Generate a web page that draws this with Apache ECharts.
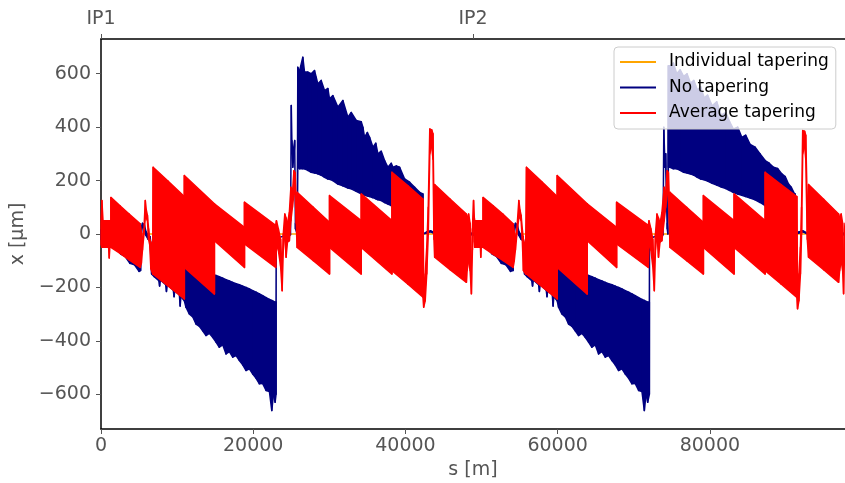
<!DOCTYPE html>
<html>
<head>
<meta charset="utf-8">
<script src="https://cdn.jsdelivr.net/npm/echarts@6/dist/echarts.min.js"></script>
<style>html,body{margin:0;padding:0;background:#fff}#c{width:845px;height:483px}</style>
</head>
<body>
<div id="c"></div>
<script>
// ---- data (s in m, x in micrometres) ----
const seriesNames = ['Individual tapering', 'No tapering', 'Average tapering'];
const xTickValues = [0, 20000, 40000, 60000, 80000];
const yTickValues = [-600, -400, -200, 0, 200, 400, 600];
const ipPositions = [0, 48878];
const ipLabels = ['IP1', 'IP2'];

// Individual tapering (orange)
const sInd = [0, 97756];
const xInd = [0, 0];

// No tapering (navy): envelope of the oscillating orbit, lower / upper edge
const sNo = [0,1300,2000,2600,3200,3800,4400,5000,5200,5300,5450,5700,5900,6200,6450,6650,
 7000,7600,7700,7800,8500,8600,8700,9500,9600,9700,10300,10400,10500,10950,
 11167,11600,12050,12480,12900,13360,13800,14230,14675,15114,15550,15990,16430,16870,17307,17750,18185,18620,19060,19500,19940,20380,20815,21250,21690,22130,22440,22660,22880,23000,
 23020,23500,24000,24900,25000,25080,25200,25450,25550,25780,
 25860,26080,26517,26740,27175,27614,28050,28272,28491,28930,29370,29807,30026,30465,31122,31780,32440,32877,33535,34193,34412,34630,35000,35290,35730,36100,36385,36824,37263,37700,38140,38360,38800,39237,39895,40550,41210,41868,42300,
 42330,42800,43300,43800,44300,48000,48500,48878,49500,50200,
 50800,51400,52000,52600,53200,53800,54150,54300,54450,54700,54900,55200,55450,55650,
 56000,56600,56700,56800,57500,57600,57700,58500,58600,58700,59300,59400,59500,59940,
 60117,60550,61000,61430,61850,62310,62750,63180,63625,64064,64500,64940,65380,65820,66257,66700,67135,67570,68010,68450,68890,69330,69765,70200,70640,71080,71390,71610,71830,72050,
 72070,72500,73000,73850,73950,74050,74200,74400,74480,
 74544,74764,75200,75650,76100,76550,77000,77450,77900,78350,78800,79250,79700,80300,80900,81500,82100,82600,83100,83650,84193,84700,85300,85948,86600,87264,87800,88360,88900,89457,89900,90334,90700,91123,91211,
 91240,91700,92200,92700,93200,97000,97400,97756];
const loNo = [-20,-45,-55,-75,-85,-110,-115,-140,-137,0,30,20,-5,-20,-25,-150,
 -160,-175,-195,-172,-190,-215,-190,-210,-235,-212,-228,-270,-235,-250,
 -274,-299,-310,-337,-345,-362,-380,-372,-387,-405,-424,-415,-449,-440,-461,-455,-474,-490,-511,-505,-524,-540,-561,-560,-586,-590,-661,-600,-630,-600,
 -12,-12,-8,-3,470,300,250,330,20,0,
 250,244,244,244,238,231,228,227,225,220,212,206,205,200,187,180,172,169,160,150,148,146,142,140,136,132,128,125,118,112,106,104,100,95,85,80,72,66,62,
 0,4,8,2,0,-3,-4,-3,-12,-45,
 -55,-75,-85,-110,-115,-140,-137,0,30,20,-5,-20,-25,-150,
 -160,-175,-195,-172,-190,-215,-190,-210,-235,-212,-228,-270,-235,-250,
 -274,-299,-310,-337,-345,-362,-380,-372,-387,-405,-424,-415,-449,-440,-461,-455,-474,-490,-511,-505,-524,-540,-561,-560,-586,-590,-661,-600,-630,-600,
 -12,-12,-8,-3,390,250,250,20,0,
 250,250,244,244,238,231,228,225,220,212,206,203,198,190,183,176,170,163,155,150,145,140,135,128,118,106,100,95,90,85,80,74,70,64,62,
 0,4,8,2,0,-3,-4,-3];
const hiNo = [15,10,0,-10,-20,-40,-50,-70,-70,25,40,35,10,-5,-10,-60,
 -60,-70,-75,-75,-85,-85,-90,-100,-100,-105,-115,-115,-120,-125,
 -127,-130,-133,-136,-139,-142,-146,-149,-152,-155,-160,-165,-171,-176,-181,-186,-190,-195,-200,-206,-212,-218,-224,-231,-238,-245,-249,-252,-255,-255,
 -12,-12,-8,-3,481,350,300,350,40,20,
 624,610,662,606,606,600,612,587,562,575,537,545,506,518,475,500,437,455,425,420,400,362,380,362,325,340,300,310,275,250,265,250,255,250,206,194,175,156,150,
 0,8,12,5,0,3,4,3,-2,10,
 0,-10,-20,-40,-50,-70,-70,25,40,35,10,-5,-10,-60,
 -60,-70,-75,-75,-85,-85,-90,-100,-100,-105,-115,-115,-120,-125,
 -127,-130,-133,-136,-139,-142,-146,-149,-152,-155,-160,-165,-171,-176,-181,-186,-190,-195,-200,-206,-212,-218,-224,-231,-238,-245,-249,-252,-255,-255,
 -12,-12,-8,-3,400,300,300,40,20,
 630,630,640,600,615,590,600,565,575,540,550,510,520,480,495,445,455,420,393,400,362,370,335,325,300,275,265,250,245,225,215,187,175,150,150,
 0,8,12,5,0,3,4,3];

// Average tapering (red): envelope of the oscillating orbit, lower / upper edge
const sAvg = [0,120,260,1000,1080,1160,1300,1300,2500,3700,5150,5300,5450,5650,5820,5950,6100,6250,6400,6550,6800,
 6850,8800,10950,10950,14900,14900,18850,18850,22950,
 23050,23300,23600,23800,23950,24150,24320,24500,24750,24950,25150,25350,25500,25650,
 25770,27900,30026,30026,34193,34193,38228,38228,40300,42307,
 42400,42600,42800,43000,43200,43450,43620,43750,
 43842,45900,48009,48100,48300,48500,48667,48800,48950,49050,49100,49850,49900,49960,50200,
 50200,51500,52800,54150,54300,54450,54650,54900,55050,55200,55350,55500,55800,
 55904,57900,59940,59940,63887,63887,67746,67746,71913,
 72000,72250,72500,72700,72850,73050,73250,73450,73700,74000,74200,74400,74550,74680,
 74764,76950,79150,79150,83185,83185,87264,87264,89350,91431,
 91520,91700,91900,92050,92200,92450,92600,92800,
 92966,94950,96913,97050,97250,97450,97570,97700,97756];
const loAvg = [-40,-50,-50,-50,-90,-50,-50,-50,-73,-97,-125,-110,-60,0,60,60,50,-20,-40,-130,-150,
 -150,-194,-243,-125,-225,-25,-125,-37,-125,
 -40,-60,-120,-212,-60,0,-87,-30,-25,50,100,150,150,40,
 -50,-100,-150,-50,-150,-50,-150,-137,-187,-237,
 -274,-250,-150,0,300,330,280,-20,
 -87,-134,-181,-137,-100,-137,-224,-60,60,-30,-50,-50,-87,-50,-50,
 -50,-75,-99,-125,-100,-60,0,60,60,50,-20,-137,-150,
 -150,-196,-243,-125,-225,-25,-125,-37,-125,
 -40,-60,-120,-212,-60,0,-87,-30,-25,50,100,150,150,40,
 -50,-100,-150,-50,-150,-50,-150,-137,-187,-237,
 -280,-250,-150,0,300,330,280,-20,
 -87,-134,-181,-137,-100,-137,-224,-60,-40];
const hiAvg = [40,125,50,50,50,50,50,137,106,75,38,10,-20,20,125,90,70,20,-20,-30,-50,
 250,198,140,219,113,113,25,119,32,
 50,20,-20,-150,0,75,60,40,80,175,150,237,230,120,
 156,100,44,144,50,150,50,231,181,131,
 -200,-150,-50,100,393,390,375,100,
 185,130,75,60,75,40,-150,20,125,60,50,50,50,50,50,
 137,106,75,38,10,-15,20,125,90,70,20,-20,-50,
 250,196,140,219,113,113,25,119,32,
 50,20,-20,-150,0,75,60,40,80,175,150,237,230,120,
 156,100,44,144,50,150,50,231,185,140,
 -200,-150,-50,100,387,385,370,100,
 185,130,75,60,75,40,-150,20,40];

// ---- chart ----
const FONT = 'DejaVu Sans';
const GREY = '#555555';
const COLORS = ['#FFA500', '#000080', '#FF0000'];

function bandSeries(name, S, LO, HI, color, z) {
  const data = S.map((s, i) => [s, LO[i], HI[i]]);
  return {
    type: 'custom', name: name, data: data, silent: true, z: z,
    encode: { x: 0, y: [1, 2] },
    itemStyle: { color: color },
    renderItem: function (params, api) {
      const i = params.dataIndex;
      if (i >= data.length - 1) return null;
      const a = data[i], b = data[i + 1];
      const p1 = api.coord([a[0], a[1]]);
      const p2 = api.coord([a[0], a[2]]);
      const p3 = api.coord([b[0], b[2]]);
      const p4 = api.coord([b[0], b[1]]);
      return {
        type: 'polygon',
        shape: { points: [p1, p2, p3, p4] },
        style: { fill: color, stroke: color, lineWidth: 1.5, lineJoin: 'round' }
      };
    }
  };
}

const chart = echarts.init(document.getElementById('c'), null, { renderer: 'canvas' });
const fmtNum = v => (v < 0 ? '\u2212' + Math.abs(v) : String(v));

chart.setOption({
  animation: false,
  color: COLORS,
  textStyle: { fontFamily: FONT },
  grid: { left: 101, right: 0, top: 39, bottom: 54, containLabel: false, outerBoundsMode: 'none' },
  xAxis: [{
    type: 'value', position: 'bottom', min: 0, max: 97756,
    name: 's [m]', nameLocation: 'middle', nameGap: 29,
    nameTextStyle: { fontFamily: FONT, fontSize: 19, color: GREY },
    axisLine: { show: true, onZero: false, lineStyle: { color: '#000', width: 1.5 } },
    axisTick: { show: true, length: 5, customValues: xTickValues, lineStyle: { color: GREY, width: 1 } },
    axisLabel: { customValues: xTickValues, fontFamily: FONT, fontSize: 19, color: GREY, margin: 8, formatter: v => String(v) },
    splitLine: { show: false }
  }, {
    type: 'value', position: 'top', min: 0, max: 97756,
    axisLine: { show: true, onZero: false, lineStyle: { color: '#000', width: 1.5 } },
    axisTick: { show: true, length: 5, customValues: ipPositions, lineStyle: { color: GREY, width: 1 } },
    axisLabel: {
      customValues: ipPositions, fontFamily: FONT, fontSize: 19, color: GREY, margin: 10,
      formatter: v => ipLabels[ipPositions.indexOf(v)] || ''
    },
    splitLine: { show: false }
  }],
  yAxis: {
    type: 'value', min: -730, max: 730,
    name: 'x [\u03bcm]', nameLocation: 'middle', nameGap: 70, nameRotate: 90,
    nameTextStyle: { fontFamily: FONT, fontSize: 19, color: GREY },
    axisLine: { show: true, onZero: false, lineStyle: { color: '#000', width: 1.5 } },
    axisTick: { show: true, length: 5, customValues: yTickValues, lineStyle: { color: GREY, width: 1 } },
    axisLabel: { customValues: yTickValues, fontFamily: FONT, fontSize: 19, color: GREY, margin: 10, formatter: fmtNum },
    splitLine: { show: false }
  },
  legend: {
    data: seriesNames, orient: 'vertical', left: 614, top: 47, z: 10,
    icon: 'rect', itemWidth: 36, itemHeight: 2, itemGap: 5.5,
    padding: [5, 7, 6, 6],
    backgroundColor: 'rgba(255,255,255,0.8)', borderColor: '#cccccc', borderWidth: 1, borderRadius: 4,
    textStyle: { fontFamily: FONT, fontSize: 17, color: '#000', lineHeight: 20, padding: [0, 0, 0, 8] }
  },
  series: [
    {
      type: 'line', name: seriesNames[0], data: sInd.map((s, i) => [s, xInd[i]]), z: 1,
      showSymbol: false, silent: true, lineStyle: { color: COLORS[0], width: 1.5 }, itemStyle: { color: COLORS[0] }
    },
    bandSeries(seriesNames[1], sNo, loNo, hiNo, COLORS[1], 2),
    bandSeries(seriesNames[2], sAvg, loAvg, hiAvg, COLORS[2], 3)
  ]
});
</script>
</body>
</html>
